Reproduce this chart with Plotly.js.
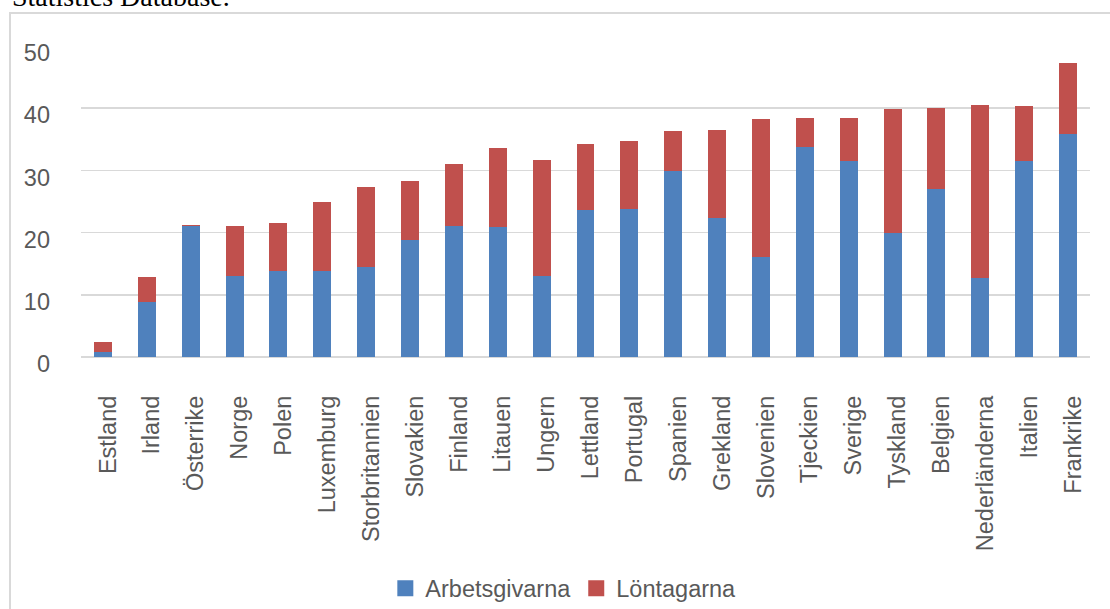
<!DOCTYPE html>
<html>
<head>
<meta charset="utf-8">
<script src="https://cdn.plot.ly/plotly-3.0.1.min.js"></script>
<style>
  html, body { margin: 0; padding: 0; background: #fff; }
  #chart { position: absolute; left: 0; top: 0; width: 1110px; height: 609px; }
  #frame { position: absolute; left: 9px; top: 12px; width: 1200px; height: 700px;
           border-left: 2px solid #d9d9d9; border-top: 2px solid #d9d9d9; pointer-events: none; }
  #note { position: absolute; left: 12px; top: -19px; font-family: "Liberation Serif", "Times New Roman", serif;
          font-size: 28px; color: #000; white-space: nowrap; }
</style>
</head>
<body>
<div id="chart"></div>
<div id="frame"></div>
<div id="note">Statistics Database.</div>
<script>
const countries = ["Estland","Irland","Österrike","Norge","Polen","Luxemburg","Storbritannien","Slovakien","Finland","Litauen","Ungern","Lettland","Portugal","Spanien","Grekland","Slovenien","Tjeckien","Sverige","Tyskland","Belgien","Nederländerna","Italien","Frankrike"];
const arbetsgivarna = [0.85, 8.9, 21.1, 13.05, 13.8, 13.8, 14.45, 18.85, 21.1, 20.85, 13.05, 23.65, 23.75, 29.85, 22.4, 16.05, 33.7, 31.45, 19.9, 26.95, 12.75, 31.45, 35.85];
const lontagarna = [1.55, 3.95, 0.15, 7.95, 7.8, 11.1, 12.85, 9.4, 9.9, 12.7, 18.55, 10.55, 11.05, 6.45, 14.05, 22.15, 4.65, 7.05, 20.05, 13.15, 27.7, 8.85, 11.35];
const seriesNames = ["Arbetsgivarna", "Löntagarna"];
const seriesColors = ["#4f81bd", "#c0504d"];
const yTicks = [0, 10, 20, 30, 40, 50];

const fam = "Liberation Sans, Arial, sans-serif";
const tickFont = {family: fam, size: 23.5, color: "#595959"};

const data = [
  {type: "bar", name: seriesNames[0], x: countries, y: arbetsgivarna, marker: {color: seriesColors[0]}, width: 0.41, showlegend: false},
  {type: "bar", name: seriesNames[1], x: countries, y: lontagarna, marker: {color: seriesColors[1]}, width: 0.41, showlegend: false},
  // legend entries only (a single empty point each, nothing is drawn in the plot)
  {type: "scatter", mode: "markers", name: seriesNames[0], x: [countries[0]], y: [null], marker: {symbol: "square", size: 16, color: seriesColors[0]}, showlegend: true},
  {type: "scatter", mode: "markers", name: seriesNames[1], x: [countries[0]], y: [null], marker: {symbol: "square", size: 16, color: seriesColors[1]}, showlegend: true}
];

const layout = {
  width: 1110, height: 609,
  margin: {l: 81, r: 20, t: 45.5, b: 252, pad: 0},
  barmode: "stack",
  paper_bgcolor: "#fff", plot_bgcolor: "#fff",
  font: {family: fam, size: 18, color: "#595959"},
  showlegend: true,
  legend: {orientation: "h", xref: "container", yref: "container",
           x: 0.5075, xanchor: "center", y: 1 - 588.5/609, yanchor: "middle",
           font: {family: fam, size: 23.5, color: "#595959"},
           itemwidth: 30, traceorder: "normal", bgcolor: "rgba(0,0,0,0)"},
  xaxis: {
    type: "category", range: [-0.5, countries.length - 0.5], tickangle: -90,
    showgrid: false, showline: false, zeroline: false,
    ticks: "", tickfont: tickFont, ticklabelstandoff: 33, ticklabelshift: 5, automargin: false
  },
  yaxis: {
    range: [0, 50], tickvals: yTicks, showgrid: true, gridcolor: "#d9d9d9", gridwidth: 1.5,
    zeroline: true, zerolinecolor: "#d9d9d9", zerolinewidth: 1.5, showline: false,
    ticks: "", tickfont: tickFont, ticklabelstandoff: 30, ticklabelshift: 7, automargin: false
  }
};

Plotly.newPlot("chart", data, layout, {displayModeBar: false, staticPlot: true});
</script>
</body>
</html>
